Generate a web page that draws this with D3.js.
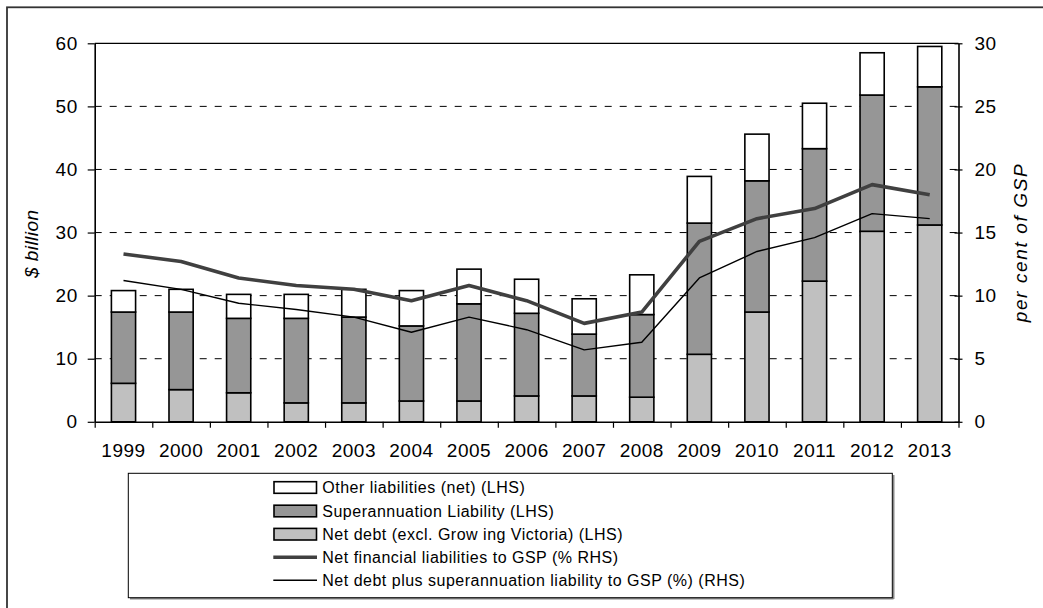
<!DOCTYPE html>
<html>
<head>
<meta charset="utf-8">
<script src="https://cdn.jsdelivr.net/npm/d3@7"></script>
<style>
  html, body { margin: 0; padding: 0; background: #fff; }
  svg { display: block; font-family: "Liberation Sans", Arial, sans-serif; }
</style>
</head>
<body>
<svg id="chart" width="1043" height="608"></svg>
<script>
// ---------------- data ----------------
const years = ["1999","2000","2001","2002","2003","2004","2005","2006","2007","2008","2009","2010","2011","2012","2013"];
const netDebt = [6.1, 5.1, 4.6, 3.0, 3.0, 3.3, 3.3, 4.1, 4.1, 3.9, 10.7, 17.4, 22.3, 30.2, 31.2];
const superLiab = [11.3, 12.3, 11.8, 13.4, 13.6, 11.9, 15.4, 13.1, 9.8, 13.1, 20.8, 20.8, 21.0, 21.6, 21.9];
const otherLiab = [3.4, 3.6, 3.8, 3.8, 4.4, 5.6, 5.5, 5.4, 5.6, 6.3, 7.4, 7.4, 7.2, 6.7, 6.4];
const nflToGsp = [13.3, 12.7, 11.4, 10.8, 10.5, 9.6, 10.8, 9.6, 7.8, 8.7, 14.3, 16.1, 16.9, 18.8, 18.0];
const ndsToGsp = [11.2, 10.5, 9.4, 8.9, 8.3, 7.1, 8.3, 7.3, 5.7, 6.3, 11.4, 13.5, 14.6, 16.5, 16.1];
const leftTicks = [0, 10, 20, 30, 40, 50, 60];
const rightTicks = [0, 5, 10, 15, 20, 25, 30];
const seriesNames = ["Other liabilities (net) (LHS)", "Superannuation Liability (LHS)", "Net debt (excl. Grow ing Victoria) (LHS)",
                     "Net financial liabilities to GSP (% RHS)", "Net debt plus superannuation liability to GSP (%) (RHS)"];
const leftTitle = "$ billion";
const rightTitle = "per cent of GSP";

// ---------------- layout ----------------
const svg = d3.select("#chart");
const L = 94.7, R = 958.5, T = 43.3, B = 421.8;
const fill = {netDebt: "#c0c0c0", superLiab: "#969696", otherLiab: "#ffffff"};

// outer frame (only top/left visible)
svg.append("rect").attr("x", 7).attr("y", 7.3).attr("width", 1100).attr("height", 700)
  .attr("fill", "#fff").attr("stroke", "#333").attr("stroke-width", 1.8);

const x = d3.scaleBand().domain(years).range([L, R]).paddingInner(0.58).paddingOuter(0.29);
const xi = d3.scaleLinear().domain([0, years.length]).range([L, R]);
const yL = d3.scaleLinear().domain([0, 60]).range([B, T]);
const yR = d3.scaleLinear().domain([0, 30]).range([B, T]);

// gridlines
svg.append("g").selectAll("line").data(leftTicks.filter(d => d > 0 && d < 60)).join("line")
  .attr("x1", L).attr("x2", R).attr("y1", d => yL(d)).attr("y2", d => yL(d))
  .attr("stroke", "#000").attr("stroke-width", 1).attr("stroke-dasharray", "7,8");
// top border
svg.append("line").attr("x1", L).attr("x2", R).attr("y1", yL(60)).attr("y2", yL(60))
  .attr("stroke", "#000").attr("stroke-width", 1.2);

// stacked bars
const rows = years.map((yr, i) => ({year: yr, netDebt: netDebt[i], superLiab: superLiab[i], otherLiab: otherLiab[i]}));
const stack = d3.stack().keys(["netDebt", "superLiab", "otherLiab"])(rows);
svg.append("g").selectAll("g").data(stack).join("g")
  .attr("fill", d => fill[d.key])
  .selectAll("rect").data(d => d).join("rect")
  .attr("x", d => x(d.data.year)).attr("width", x.bandwidth())
  .attr("y", d => yL(d[1])).attr("height", d => yL(d[0]) - yL(d[1]))
  .attr("stroke", "#000").attr("stroke-width", 1.6);

// lines
const line = d3.line().x((d, i) => x(years[i]) + x.bandwidth() / 2).y(d => yR(d));
svg.append("path").datum(ndsToGsp).attr("d", line).attr("fill", "none")
  .attr("stroke", "#000").attr("stroke-width", 1.4).attr("stroke-linejoin", "round");
svg.append("path").datum(nflToGsp).attr("d", line).attr("fill", "none")
  .attr("stroke", "#404040").attr("stroke-width", 3.6).attr("stroke-linejoin", "round");

// axes
const tickFont = (g) => g.selectAll("text").attr("font-size", "19px").attr("fill", "#000")
  .attr("font-family", "'Liberation Sans', Arial, sans-serif").attr("letter-spacing", "0.5px");

const gL = svg.append("g").attr("transform", `translate(${L},0)`)
  .call(d3.axisLeft(yL).tickValues(leftTicks).tickSize(7).tickPadding(10).tickSizeOuter(0));
gL.select(".domain").attr("stroke", "#000").attr("stroke-width", 1.6);
gL.selectAll(".tick line").attr("stroke", "#000").attr("stroke-width", 1.2);
tickFont(gL);

const gR = svg.append("g").attr("transform", `translate(${R},0)`)
  .call(d3.axisRight(yR).tickValues(rightTicks).tickSize(4).tickPadding(12).tickSizeOuter(0));
gR.select(".domain").attr("stroke", "#000").attr("stroke-width", 1.6);
gR.selectAll(".tick line").attr("stroke", "#000").attr("stroke-width", 1.2).attr("x1", -4);
tickFont(gR);

const gXt = svg.append("g").attr("transform", `translate(0,${B})`)
  .call(d3.axisBottom(xi).ticks(years.length).tickValues(d3.range(years.length + 1)).tickSize(6).tickFormat(() => "").tickSizeOuter(0));
gXt.select(".domain").attr("stroke", "#000").attr("stroke-width", 1.6);
gXt.selectAll(".tick line").attr("stroke", "#000").attr("stroke-width", 1.2);

const gX = svg.append("g").attr("transform", `translate(0,${B})`)
  .call(d3.axisBottom(x).tickSize(0).tickPadding(22));
gX.select(".domain").remove();
tickFont(gX);

// axis titles
svg.append("text").attr("transform", "translate(31.5,244) rotate(-90)")
  .attr("text-anchor", "middle").attr("dy", "0.35em").attr("font-size", "19px").attr("font-style", "italic")
  .attr("textLength", 68).attr("lengthAdjust", "spacing").text(leftTitle);
svg.append("text").attr("transform", "translate(1020.5,243.3) rotate(-90)")
  .attr("text-anchor", "middle").attr("dy", "0.35em").attr("font-size", "19px").attr("font-style", "italic")
  .attr("textLength", 158).attr("lengthAdjust", "spacing").text(rightTitle);

// legend
const lg = svg.append("g");
lg.append("line").attr("x1", 130).attr("x2", 893.5).attr("y1", 598.5).attr("y2", 598.5).attr("stroke", "#888").attr("stroke-width", 2);
lg.append("line").attr("x1", 893.5).attr("x2", 893.5).attr("y1", 475).attr("y2", 599).attr("stroke", "#888").attr("stroke-width", 2);
lg.append("rect").attr("x", 128.3).attr("y", 473.3).attr("width", 764).attr("height", 124.4)
  .attr("fill", "#fff").attr("stroke", "#000").attr("stroke-width", 1);
const rowY = [487.5, 511.0, 534.2, 557.3, 580.3];
const legendItems = [
  {type: "rect", fill: fill.otherLiab},
  {type: "rect", fill: fill.superLiab},
  {type: "rect", fill: fill.netDebt},
  {type: "line", stroke: "#404040", width: 3.6},
  {type: "line", stroke: "#000", width: 1.4}
];
legendItems.forEach((it, i) => {
  const cy = rowY[i];
  if (it.type === "rect") {
    lg.append("rect").attr("x", 274).attr("y", cy - 5.8).attr("width", 42.5).attr("height", 11.6)
      .attr("fill", it.fill).attr("stroke", "#000").attr("stroke-width", 1.6);
  } else {
    lg.append("line").attr("x1", 273.3).attr("x2", 317).attr("y1", cy).attr("y2", cy)
      .attr("stroke", it.stroke).attr("stroke-width", it.width);
  }
  lg.append("text").attr("x", 322.3).attr("y", cy).attr("dy", "0.35em")
    .attr("font-size", "16px").attr("letter-spacing", "0.5px").attr("fill", "#000").text(seriesNames[i]);
});
</script>
</body>
</html>
